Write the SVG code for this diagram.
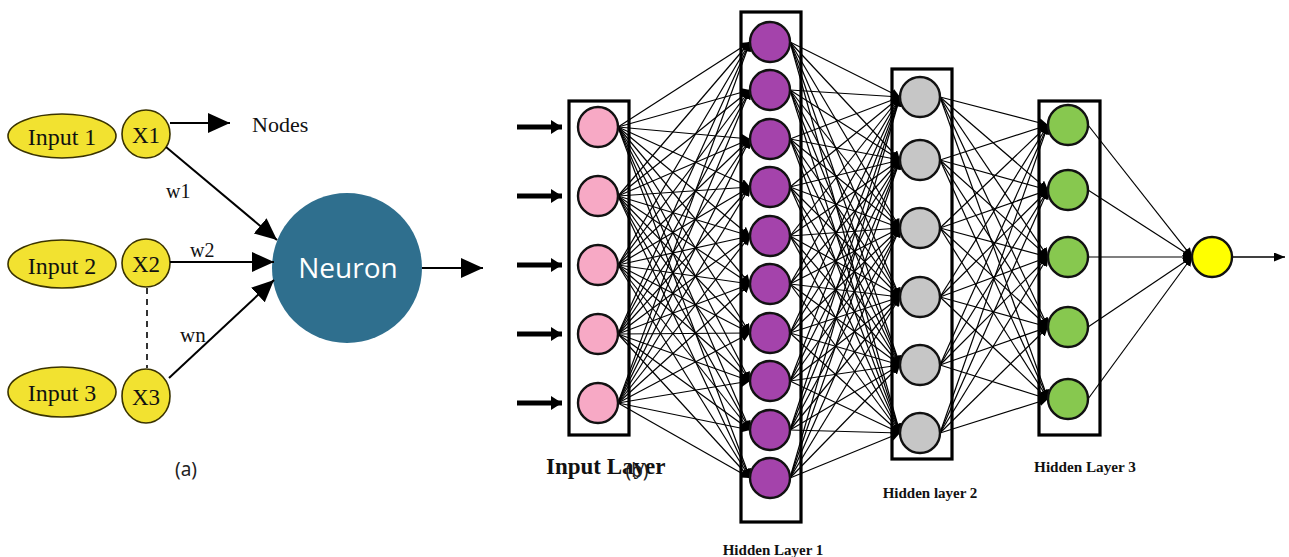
<svg xmlns="http://www.w3.org/2000/svg" width="1289" height="557" viewBox="0 0 1289 557">
  <style>
    .serif { font-family: "Liberation Serif", "Times New Roman", serif; fill: #111; }
    .lbl { font-family: "Liberation Serif", "Times New Roman", serif; font-weight: bold; fill: #111; }
    .cap { font-family: "Noto Sans", "Open Sans", sans-serif; font-size: 19px; fill: #222; }
    .inp { fill: #f2e230; stroke: #3a3300; stroke-width: 1.6; }
    .arrowL { stroke: #000; stroke-width: 2; fill: none; marker-end: url(#headL); }
    .box { fill: none; stroke: #000; stroke-width: 3.2; }
    .nd { stroke: #111; stroke-width: 2.4; }
    .pink { fill: #f7a9c5; }
    .purple { fill: #a443ab; }
    .gray { fill: #c6c6c6; }
    .green { fill: #87c84f; }
    .yellow { fill: #ffff00; }
    #edges line { stroke: #000; stroke-width: 1.2; marker-end: url(#headS); }
    .feed { stroke: #000; stroke-width: 5; marker-end: url(#headF); }
  </style>
  <defs>
    <marker id="headL" markerUnits="userSpaceOnUse" markerWidth="22" markerHeight="20" refX="22" refY="10" orient="auto">
      <path d="M0,0 L22,10 L0,20 z" fill="#000"/>
    </marker>
    <marker id="headS" markerUnits="userSpaceOnUse" markerWidth="9" markerHeight="9" refX="9" refY="4.5" orient="auto">
      <path d="M0,0 L9,4.5 L0,9 z" fill="#000"/>
    </marker>
    <marker id="headF" markerUnits="userSpaceOnUse" markerWidth="11" markerHeight="14" refX="11" refY="7" orient="auto">
      <path d="M0,0 L11,7 L0,14 z" fill="#000"/>
    </marker>
    <marker id="headO" markerUnits="userSpaceOnUse" markerWidth="11" markerHeight="9" refX="11" refY="4.5" orient="auto">
      <path d="M0,0 L11,4.5 L0,9 z" fill="#000"/>
    </marker>
  </defs>
  <rect width="1289" height="557" fill="#fff"/>

  <!-- (a) single neuron -->
  <g id="input1">
    <ellipse class="inp" cx="62" cy="136" rx="54" ry="22"/>
    <text class="serif" x="62" y="145" font-size="24" text-anchor="middle">Input 1</text>
  </g>
  <g id="input2">
    <ellipse class="inp" cx="62" cy="264" rx="54" ry="24"/>
    <text class="serif" x="62" y="274" font-size="24" text-anchor="middle">Input 2</text>
  </g>
  <g id="input3">
    <ellipse class="inp" cx="62" cy="392" rx="54" ry="25"/>
    <text class="serif" x="62" y="401" font-size="24" text-anchor="middle">Input 3</text>
  </g>
  <g id="x1">
    <ellipse class="inp" cx="146" cy="134" rx="24" ry="24"/>
    <text class="serif" x="146" y="143" font-size="23" text-anchor="middle">X1</text>
  </g>
  <g id="x2">
    <ellipse class="inp" cx="146" cy="263" rx="24" ry="24"/>
    <text class="serif" x="146" y="272" font-size="23" text-anchor="middle">X2</text>
  </g>
  <g id="x3">
    <ellipse class="inp" cx="146" cy="396" rx="24" ry="27"/>
    <text class="serif" x="146" y="405" font-size="23" text-anchor="middle">X3</text>
  </g>
  <g id="neuron">
    <circle cx="347" cy="268" r="75" fill="#2f6f8e"/>
    <text x="348" y="278" font-family="Open Sans, Noto Sans, sans-serif" font-size="28" fill="#fff" text-anchor="middle">Neuron</text>
  </g>
  <g id="nodes-label">
    <text class="serif" x="252" y="132" font-size="22">Nodes</text>
  </g>

  <g id="single-connectors">
    <line class="arrowL" x1="170" y1="123" x2="230" y2="123"/>
    <line class="arrowL" x1="166" y1="147" x2="277" y2="240"/>
    <line class="arrowL" x1="170" y1="262" x2="274" y2="262"/>
    <line class="arrowL" x1="169" y1="378" x2="274" y2="280"/>
    <line class="arrowL" x1="422" y1="268" x2="483" y2="268"/>
    <line x1="147" y1="288" x2="147" y2="368" stroke="#000" stroke-width="1.6" stroke-dasharray="6,5"/>
    <text class="serif" x="166" y="198" font-size="20">w1</text>
    <text class="serif" x="190" y="257" font-size="20">w2</text>
    <text class="serif" x="180" y="342" font-size="21">wn</text>
  </g>
  <text class="cap" x="186" y="476" text-anchor="middle">(a)</text>

  <!-- (b) multilayer network -->
  <g id="input-feeds">
    <line class="feed" x1="517" y1="127" x2="562" y2="127"/>
    <line class="feed" x1="517" y1="196" x2="562" y2="196"/>
    <line class="feed" x1="517" y1="265" x2="562" y2="265"/>
    <line class="feed" x1="517" y1="334" x2="562" y2="334"/>
    <line class="feed" x1="517" y1="403" x2="562" y2="403"/>
  </g>

  <g id="edges">
    <!-- input layer to hidden layer 1 -->
    <line x1="618" y1="127" x2="750" y2="42"/><line x1="618" y1="127" x2="750" y2="90"/><line x1="618" y1="127" x2="750" y2="139"/><line x1="618" y1="127" x2="750" y2="187"/><line x1="618" y1="127" x2="750" y2="236"/><line x1="618" y1="127" x2="750" y2="284"/><line x1="618" y1="127" x2="750" y2="333"/><line x1="618" y1="127" x2="750" y2="381"/><line x1="618" y1="127" x2="750" y2="430"/><line x1="618" y1="127" x2="750" y2="478"/>
    <line x1="618" y1="196" x2="750" y2="42"/><line x1="618" y1="196" x2="750" y2="90"/><line x1="618" y1="196" x2="750" y2="139"/><line x1="618" y1="196" x2="750" y2="187"/><line x1="618" y1="196" x2="750" y2="236"/><line x1="618" y1="196" x2="750" y2="284"/><line x1="618" y1="196" x2="750" y2="333"/><line x1="618" y1="196" x2="750" y2="381"/><line x1="618" y1="196" x2="750" y2="430"/><line x1="618" y1="196" x2="750" y2="478"/>
    <line x1="618" y1="265" x2="750" y2="42"/><line x1="618" y1="265" x2="750" y2="90"/><line x1="618" y1="265" x2="750" y2="139"/><line x1="618" y1="265" x2="750" y2="187"/><line x1="618" y1="265" x2="750" y2="236"/><line x1="618" y1="265" x2="750" y2="284"/><line x1="618" y1="265" x2="750" y2="333"/><line x1="618" y1="265" x2="750" y2="381"/><line x1="618" y1="265" x2="750" y2="430"/><line x1="618" y1="265" x2="750" y2="478"/>
    <line x1="618" y1="334" x2="750" y2="42"/><line x1="618" y1="334" x2="750" y2="90"/><line x1="618" y1="334" x2="750" y2="139"/><line x1="618" y1="334" x2="750" y2="187"/><line x1="618" y1="334" x2="750" y2="236"/><line x1="618" y1="334" x2="750" y2="284"/><line x1="618" y1="334" x2="750" y2="333"/><line x1="618" y1="334" x2="750" y2="381"/><line x1="618" y1="334" x2="750" y2="430"/><line x1="618" y1="334" x2="750" y2="478"/>
    <line x1="618" y1="403" x2="750" y2="42"/><line x1="618" y1="403" x2="750" y2="90"/><line x1="618" y1="403" x2="750" y2="139"/><line x1="618" y1="403" x2="750" y2="187"/><line x1="618" y1="403" x2="750" y2="236"/><line x1="618" y1="403" x2="750" y2="284"/><line x1="618" y1="403" x2="750" y2="333"/><line x1="618" y1="403" x2="750" y2="381"/><line x1="618" y1="403" x2="750" y2="430"/><line x1="618" y1="403" x2="750" y2="478"/>
    <!-- hidden layer 1 to hidden layer 2 -->
    <line x1="790" y1="42" x2="900" y2="97"/><line x1="790" y1="42" x2="900" y2="160"/><line x1="790" y1="42" x2="900" y2="228"/><line x1="790" y1="42" x2="900" y2="297"/><line x1="790" y1="42" x2="900" y2="365"/><line x1="790" y1="42" x2="900" y2="433"/>
    <line x1="790" y1="90" x2="900" y2="97"/><line x1="790" y1="90" x2="900" y2="160"/><line x1="790" y1="90" x2="900" y2="228"/><line x1="790" y1="90" x2="900" y2="297"/><line x1="790" y1="90" x2="900" y2="365"/><line x1="790" y1="90" x2="900" y2="433"/>
    <line x1="790" y1="139" x2="900" y2="97"/><line x1="790" y1="139" x2="900" y2="160"/><line x1="790" y1="139" x2="900" y2="228"/><line x1="790" y1="139" x2="900" y2="297"/><line x1="790" y1="139" x2="900" y2="365"/><line x1="790" y1="139" x2="900" y2="433"/>
    <line x1="790" y1="187" x2="900" y2="97"/><line x1="790" y1="187" x2="900" y2="160"/><line x1="790" y1="187" x2="900" y2="228"/><line x1="790" y1="187" x2="900" y2="297"/><line x1="790" y1="187" x2="900" y2="365"/><line x1="790" y1="187" x2="900" y2="433"/>
    <line x1="790" y1="236" x2="900" y2="97"/><line x1="790" y1="236" x2="900" y2="160"/><line x1="790" y1="236" x2="900" y2="228"/><line x1="790" y1="236" x2="900" y2="297"/><line x1="790" y1="236" x2="900" y2="365"/><line x1="790" y1="236" x2="900" y2="433"/>
    <line x1="790" y1="284" x2="900" y2="97"/><line x1="790" y1="284" x2="900" y2="160"/><line x1="790" y1="284" x2="900" y2="228"/><line x1="790" y1="284" x2="900" y2="297"/><line x1="790" y1="284" x2="900" y2="365"/><line x1="790" y1="284" x2="900" y2="433"/>
    <line x1="790" y1="333" x2="900" y2="97"/><line x1="790" y1="333" x2="900" y2="160"/><line x1="790" y1="333" x2="900" y2="228"/><line x1="790" y1="333" x2="900" y2="297"/><line x1="790" y1="333" x2="900" y2="365"/><line x1="790" y1="333" x2="900" y2="433"/>
    <line x1="790" y1="381" x2="900" y2="97"/><line x1="790" y1="381" x2="900" y2="160"/><line x1="790" y1="381" x2="900" y2="228"/><line x1="790" y1="381" x2="900" y2="297"/><line x1="790" y1="381" x2="900" y2="365"/><line x1="790" y1="381" x2="900" y2="433"/>
    <line x1="790" y1="430" x2="900" y2="97"/><line x1="790" y1="430" x2="900" y2="160"/><line x1="790" y1="430" x2="900" y2="228"/><line x1="790" y1="430" x2="900" y2="297"/><line x1="790" y1="430" x2="900" y2="365"/><line x1="790" y1="430" x2="900" y2="433"/>
    <line x1="790" y1="478" x2="900" y2="97"/><line x1="790" y1="478" x2="900" y2="160"/><line x1="790" y1="478" x2="900" y2="228"/><line x1="790" y1="478" x2="900" y2="297"/><line x1="790" y1="478" x2="900" y2="365"/><line x1="790" y1="478" x2="900" y2="433"/>
    <!-- hidden layer 2 to hidden layer 3 -->
    <line x1="940" y1="97" x2="1048" y2="125"/><line x1="940" y1="97" x2="1048" y2="190"/><line x1="940" y1="97" x2="1048" y2="257"/><line x1="940" y1="97" x2="1048" y2="327"/><line x1="940" y1="97" x2="1048" y2="399"/>
    <line x1="940" y1="160" x2="1048" y2="125"/><line x1="940" y1="160" x2="1048" y2="190"/><line x1="940" y1="160" x2="1048" y2="257"/><line x1="940" y1="160" x2="1048" y2="327"/><line x1="940" y1="160" x2="1048" y2="399"/>
    <line x1="940" y1="228" x2="1048" y2="125"/><line x1="940" y1="228" x2="1048" y2="190"/><line x1="940" y1="228" x2="1048" y2="257"/><line x1="940" y1="228" x2="1048" y2="327"/><line x1="940" y1="228" x2="1048" y2="399"/>
    <line x1="940" y1="297" x2="1048" y2="125"/><line x1="940" y1="297" x2="1048" y2="190"/><line x1="940" y1="297" x2="1048" y2="257"/><line x1="940" y1="297" x2="1048" y2="327"/><line x1="940" y1="297" x2="1048" y2="399"/>
    <line x1="940" y1="365" x2="1048" y2="125"/><line x1="940" y1="365" x2="1048" y2="190"/><line x1="940" y1="365" x2="1048" y2="257"/><line x1="940" y1="365" x2="1048" y2="327"/><line x1="940" y1="365" x2="1048" y2="399"/>
    <line x1="940" y1="433" x2="1048" y2="125"/><line x1="940" y1="433" x2="1048" y2="190"/><line x1="940" y1="433" x2="1048" y2="257"/><line x1="940" y1="433" x2="1048" y2="327"/><line x1="940" y1="433" x2="1048" y2="399"/>
    <!-- hidden layer 3 to output -->
    <line x1="1088" y1="125" x2="1192" y2="257"/><line x1="1088" y1="190" x2="1192" y2="257"/><line x1="1088" y1="257" x2="1192" y2="257"/><line x1="1088" y1="327" x2="1192" y2="257"/><line x1="1088" y1="399" x2="1192" y2="257"/>
  </g>
  <line x1="1232" y1="257" x2="1285" y2="257" stroke="#000" stroke-width="1.3" marker-end="url(#headO)"/>

  <g id="input-layer">
    <rect class="box" x="569" y="101" width="60" height="334"/>
    <circle class="nd pink" cx="598" cy="127" r="20"/>
    <circle class="nd pink" cx="598" cy="196" r="20"/>
    <circle class="nd pink" cx="598" cy="265" r="20"/>
    <circle class="nd pink" cx="598" cy="334" r="20"/>
    <circle class="nd pink" cx="598" cy="403" r="20"/>
    <text class="lbl" x="546" y="474" font-size="23">Input Layer</text>
  </g>
  <g id="hidden-layer-1">
    <rect class="box" x="741" y="12" width="60" height="510"/>
    <circle class="nd purple" cx="770" cy="42" r="20"/>
    <circle class="nd purple" cx="770" cy="90" r="20"/>
    <circle class="nd purple" cx="770" cy="139" r="20"/>
    <circle class="nd purple" cx="770" cy="187" r="20"/>
    <circle class="nd purple" cx="770" cy="236" r="20"/>
    <circle class="nd purple" cx="770" cy="284" r="20"/>
    <circle class="nd purple" cx="770" cy="333" r="20"/>
    <circle class="nd purple" cx="770" cy="381" r="20"/>
    <circle class="nd purple" cx="770" cy="430" r="20"/>
    <circle class="nd purple" cx="770" cy="478" r="20"/>
    <text class="lbl" x="773" y="555" font-size="15" text-anchor="middle">Hidden Layer 1</text>
  </g>
  <g id="hidden-layer-2">
    <rect class="box" x="892" y="69" width="60" height="390"/>
    <circle class="nd gray" cx="920" cy="97" r="20"/>
    <circle class="nd gray" cx="920" cy="160" r="20"/>
    <circle class="nd gray" cx="920" cy="228" r="20"/>
    <circle class="nd gray" cx="920" cy="297" r="20"/>
    <circle class="nd gray" cx="920" cy="365" r="20"/>
    <circle class="nd gray" cx="920" cy="433" r="20"/>
    <text class="lbl" x="930" y="498" font-size="15" text-anchor="middle">Hidden layer 2</text>
  </g>
  <g id="hidden-layer-3">
    <rect class="box" x="1039" y="101" width="61" height="334"/>
    <circle class="nd green" cx="1068" cy="125" r="20"/>
    <circle class="nd green" cx="1068" cy="190" r="20"/>
    <circle class="nd green" cx="1068" cy="257" r="20"/>
    <circle class="nd green" cx="1068" cy="327" r="20"/>
    <circle class="nd green" cx="1068" cy="399" r="20"/>
    <text class="lbl" x="1085" y="472" font-size="15.2" text-anchor="middle">Hidden Layer 3</text>
  </g>
  <g id="output-node">
    <circle class="nd yellow" cx="1212" cy="257" r="20"/>
  </g>
  <text class="cap" x="637" y="477" text-anchor="middle">(b)</text>
</svg>
